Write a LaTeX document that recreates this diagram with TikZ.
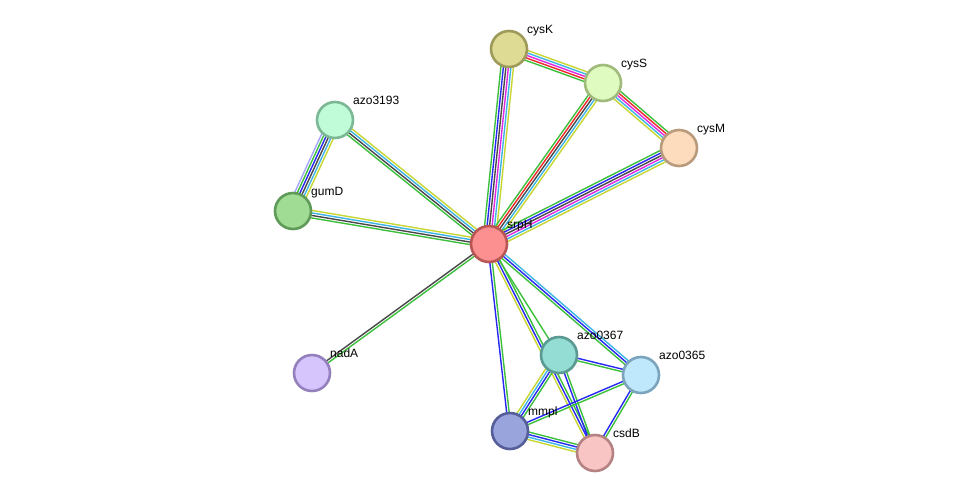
\documentclass[tikz,border=0pt]{standalone}
\usepackage{fontspec}
\setmainfont{Liberation Sans}
\usetikzlibrary{calc}
\pgfdeclarelayer{bg}
\pgfsetlayers{bg,main}
\definecolor{eGreen}{RGB}{60,192,60}
\definecolor{eRed}{RGB}{240,40,40}
\definecolor{eBlue}{RGB}{40,40,245}
\definecolor{eBlack}{RGB}{72,72,72}
\definecolor{eMag}{RGB}{225,40,225}
\definecolor{eCyan}{RGB}{60,180,230}
\definecolor{eYel}{RGB}{200,214,50}
\definecolor{eLav}{RGB}{165,165,255}
\newcommand\stredge[3]{%
  \foreach \ecol [count=\ei] in {#3} {\xdef\enn{\ei}}%
  \foreach \ecol [count=\ei] in {#3} {%
    \pgfmathsetmacro\eoff{(\ei-(\enn+1)/2)*2.5}%
    \draw[\ecol, line width=1.4pt] ($(#1.center)!\eoff pt!90:(#2.center)$) -- ($(#2.center)!\eoff pt!-90:(#1.center)$);
  }%
}
\tikzset{
  prot/.style={circle, minimum size=36pt, inner sep=0pt, line width=2.6pt},
  lab/.style={anchor=base west, inner sep=0pt, font=\fontsize{12}{14}\selectfont, text=black}
}
\begin{document}
\begin{tikzpicture}[x=1pt,y=-1pt]
\useasboundingbox (0,0) rectangle (976,499);
% nodes
\node[prot, fill={rgb,255:red,222;green,219;blue,148}, draw={rgb,255:red,158;green,154;blue,90}] (cysK) at (509,49) {};
\node[prot, fill={rgb,255:red,224;green,251;blue,192}, draw={rgb,255:red,160;green,186;blue,124}] (cysS) at (603,83) {};
\node[prot, fill={rgb,255:red,252;green,220;blue,188}, draw={rgb,255:red,184;green,154;blue,124}] (cysM) at (679,148) {};
\node[prot, fill={rgb,255:red,192;green,252;blue,216}, draw={rgb,255:red,124;green,184;blue,150}] (azo3193) at (335,120) {};
\node[prot, fill={rgb,255:red,160;green,220;blue,148}, draw={rgb,255:red,95;green,154;blue,88}] (gumD) at (293,211) {};
\node[prot, fill={rgb,255:red,252;green,144;blue,144}, draw={rgb,255:red,184;green,86;blue,86}] (srpH) at (489,244) {};
\node[prot, fill={rgb,255:red,214;green,196;blue,252}, draw={rgb,255:red,148;green,128;blue,188}] (nadA) at (312,373) {};
\node[prot, fill={rgb,255:red,148;green,221;blue,212}, draw={rgb,255:red,90;green,154;blue,146}] (azo0367) at (559,355) {};
\node[prot, fill={rgb,255:red,192;green,232;blue,252}, draw={rgb,255:red,124;green,164;blue,188}] (azo0365) at (641,375) {};
\node[prot, fill={rgb,255:red,154;green,164;blue,220}, draw={rgb,255:red,86;green,94;blue,154}] (mmpl) at (510,431) {};
\node[prot, fill={rgb,255:red,248;green,196;blue,196}, draw={rgb,255:red,180;green,130;blue,130}] (csdB) at (595,453) {};
% labels
\node[lab] (cysK-l) at ($(cysK)+(18,-16)$) {cysK};
\node[lab] (cysS-l) at ($(cysS)+(18,-16)$) {cysS};
\node[lab] (cysM-l) at ($(cysM)+(18,-16)$) {cysM};
\node[lab] (azo3193-l) at ($(azo3193)+(18,-16)$) {azo3193};
\node[lab] (gumD-l) at ($(gumD)+(18,-16)$) {gumD};
\node[lab] (srpH-l) at ($(srpH)+(18,-16)$) {srpH};
\node[lab] (nadA-l) at ($(nadA)+(18,-16)$) {nadA};
\node[lab] (azo0367-l) at ($(azo0367)+(18,-16)$) {azo0367};
\node[lab] (azo0365-l) at ($(azo0365)+(18,-16)$) {azo0365};
\node[lab] (mmpl-l) at ($(mmpl)+(18,-16)$) {mmpl};
\node[lab] (csdB-l) at ($(csdB)+(18,-16)$) {csdB};
% edges
\begin{pgfonlayer}{bg}
\fill[white] (0,0) rectangle (976,499);
\stredge{cysK}{srpH}{eGreen,eBlue,eBlack,eMag,eCyan,eYel}
\stredge{cysK}{cysS}{eGreen,eRed,eMag,eCyan,eYel}
\stredge{cysS}{srpH}{eGreen,eRed,eBlack,eCyan,eYel}
\stredge{cysS}{cysM}{eYel,eCyan,eMag,eRed,eGreen}
\stredge{cysM}{srpH}{eGreen,eBlue,eBlack,eMag,eCyan,eYel}
\stredge{azo3193}{srpH}{eGreen,eBlack,eCyan,eYel}
\stredge{gumD}{srpH}{eGreen,eBlack,eCyan,eYel}
\stredge{azo3193}{gumD}{eLav,eGreen,eBlue,eBlack,eCyan,eYel}
\stredge{srpH}{nadA}{eBlack,eGreen}
\stredge{srpH}{azo0365}{eGreen,eBlue,eCyan}
\stredge{srpH}{mmpl}{eBlue,eGreen}
\stredge{srpH}{csdB}{eYel,eBlue,eGreen}
\stredge{srpH}{azo0367}{eGreen}
\stredge{azo0367}{azo0365}{eGreen,eBlue}
\stredge{azo0367}{mmpl}{eYel,eCyan,eBlue,eGreen}
\stredge{azo0367}{csdB}{eBlue,eGreen}
\stredge{mmpl}{azo0365}{eGreen,eBlue}
\stredge{azo0365}{csdB}{eBlue,eGreen}
\stredge{mmpl}{csdB}{eYel,eCyan,eBlue,eGreen}
\end{pgfonlayer}
\end{tikzpicture}
\end{document}
